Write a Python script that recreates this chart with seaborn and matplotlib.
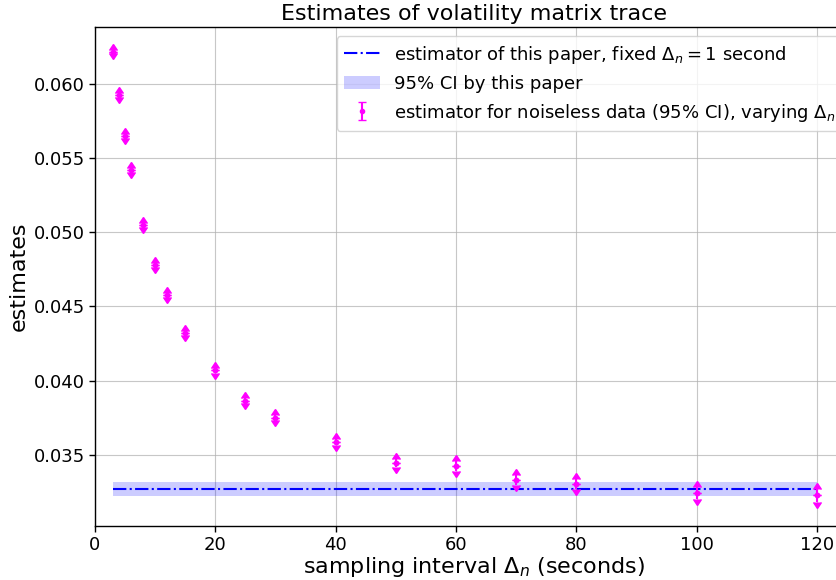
import numpy as np
import matplotlib
matplotlib.use('Agg')
import matplotlib.pyplot as plt
import seaborn as sns

# sampling intervals (seconds) and noiseless-data estimates with CI half-widths
intervals = [3, 4, 5, 6, 8, 10, 12, 15, 20, 25, 30, 40, 50, 60, 70, 80, 100, 120]
estimates = [0.06218, 0.05926, 0.05651, 0.0542, 0.05049, 0.04779, 0.04579, 0.0432,
             0.04068, 0.03865, 0.0375, 0.03584, 0.03446, 0.03424, 0.03329, 0.03302,
             0.0324, 0.03226]
ci_half = [0.00011, 0.00011, 0.00012, 0.00012, 0.00013, 0.00013, 0.00014, 0.00014,
           0.000145, 0.00016, 0.00018, 0.00021, 0.00028, 0.00031, 0.00031, 0.00033,
           0.0004, 0.00043]

# estimator of this paper (fixed 1 second) and its 95% CI
paper_est = 0.03269
paper_ci = 0.00045

sns.set_style('ticks', rc={'text.color': 'black', 'axes.labelcolor': 'black',
                           'xtick.color': 'black', 'ytick.color': 'black'})
plt.rcParams['font.family'] = ['DejaVu Sans']

fig = plt.figure(figsize=(8.36, 5.8), dpi=100)
ax = fig.add_axes([0.1136, 0.0931, 0.9057, 0.8598])

x_span = [intervals[0], intervals[-1]]
sns.lineplot(x=x_span, y=[paper_est, paper_est], ax=ax, color='blue', linestyle='-.',
             linewidth=1.5, label=r'estimator of this paper, fixed $\Delta_n = 1$ second')
ax.fill_between(x_span, paper_est - paper_ci, paper_est + paper_ci, color='blue',
                alpha=0.2, linewidth=0, label='95% CI by this paper')

ax.errorbar(intervals, estimates, yerr=ci_half, fmt='.', color='magenta', capsize=3,
            lolims=True, label=r'estimator for noiseless data (95% CI), varying $\Delta_n$')
ax.errorbar(intervals, estimates, yerr=ci_half, fmt='.', color='magenta', capsize=3,
            uplims=True, label='_nolegend_')

ax.set_xlim(0, 125.85)
ax.set_ylim(0.03019, 0.06383)
ax.set_yticks([0.035, 0.040, 0.045, 0.050, 0.055, 0.060])
ax.set_xticks([0, 20, 40, 60, 80, 100, 120])
ax.grid(True, color='#b0b0b0', linewidth=0.8, alpha=0.7)
for s in ax.spines.values():
    s.set_color('black')
    s.set_linewidth(1.0)
ax.tick_params(labelsize=13, color='black', length=4, width=1, pad=3)

ax.set_title('Estimates of volatility matrix trace', fontsize=16, pad=5)
ax.set_xlabel(r'sampling interval $\Delta_n$ (seconds)', fontsize=16, labelpad=1)
ax.set_ylabel('estimates', fontsize=16, labelpad=4)
ax.legend(loc='upper right', fontsize=13)

fig.savefig('out.png', dpi=100)
